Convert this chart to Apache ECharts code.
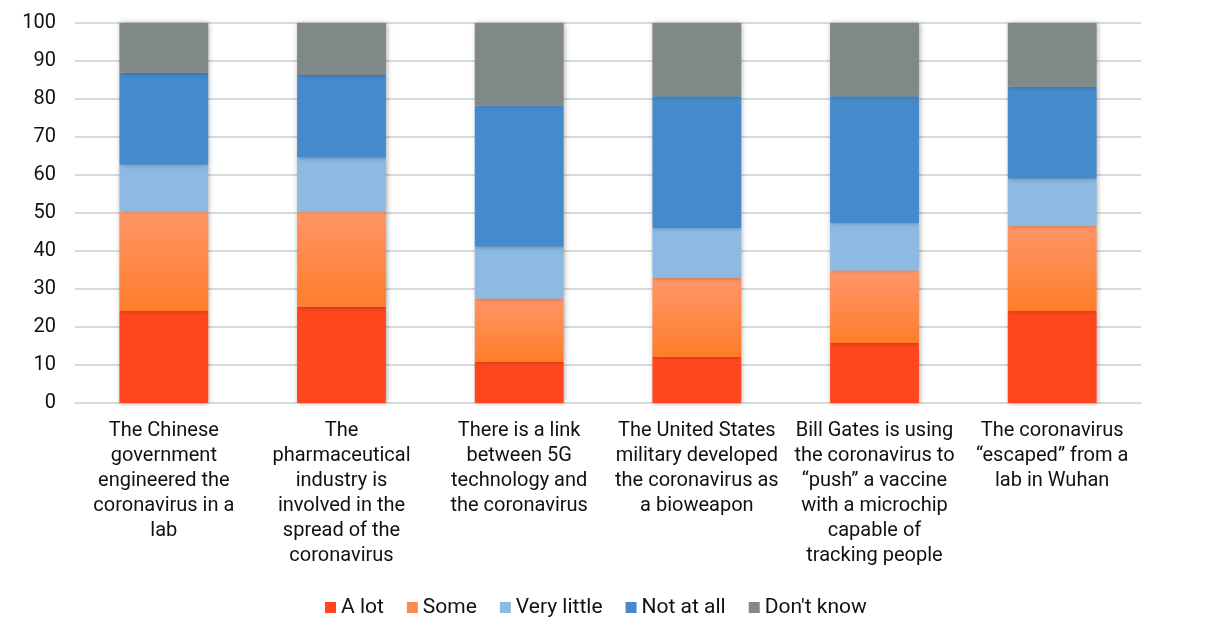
<!DOCTYPE html>
<html>
<head>
<meta charset="utf-8">
<style>
html,body{margin:0;padding:0;background:#fff;}
#chart{width:1207px;height:620px;}
</style>
<script src="https://cdn.jsdelivr.net/npm/echarts@6/dist/echarts.min.js"></script>
</head>
<body>
<div id="chart"></div>
<script>
const categories = [
  "The Chinese\ngovernment\nengineered the\ncoronavirus in a\nlab",
  "The\npharmaceutical\nindustry is\ninvolved in the\nspread of the\ncoronavirus",
  "There is a link\nbetween 5G\ntechnology and\nthe coronavirus",
  "The United States\nmilitary developed\nthe coronavirus as\na bioweapon",
  "Bill Gates is using\nthe coronavirus to\n“push” a vaccine\nwith a microchip\ncapable of\ntracking people",
  "The coronavirus\n“escaped” from a\nlab in Wuhan"
];
const seriesNames = ["A lot", "Some", "Very little", "Not at all", "Don't know"];
const aLot       = [24.2, 25.3, 10.8, 12.1, 15.8, 24.2];
const some       = [26.2, 25.1, 16.7, 20.8, 19.1, 22.4];
const veryLittle = [12.3, 14.2, 13.6, 13.1, 12.4, 12.4];
const notAtAll   = [24.2, 21.7, 37.2, 34.7, 33.4, 24.2];
const dontKnow   = [13.1, 13.7, 21.7, 19.3, 19.3, 16.8];
const yTicks = { min: 0, max: 100, interval: 10 };

const values = [aLot, some, veryLittle, notAtAll, dontKnow];
const colors = [
  "#FF461D",
  new echarts.graphic.LinearGradient(0, 0, 0, 1, [
    { offset: 0, color: "#FF9668" },
    { offset: 1, color: "#FF7D2A" }
  ]),
  "#8DBAE2",
  "#458ACB",
  "#808888"
];
const legendColors = ["#FF461D", "#FF8A4A", "#8DBAE2", "#458ACB", "#808888"];

const chart = echarts.init(document.getElementById("chart"), null, { renderer: "canvas" });
chart.setOption({
  animation: false,
  textStyle: { fontFamily: "Roboto" },
  grid: { left: 75, right: 66, top: 23, bottom: 217, containLabel: false },
  legend: {
    top: 592,
    left: 320,
    itemWidth: 11,
    itemHeight: 11,
    itemGap: 23,
    itemTextGap: 5,
    icon: "rect",
    textStyle: { fontSize: 21, color: "#111", fontFamily: "Roboto" },
    data: seriesNames.map((n, i) => ({ name: n, itemStyle: { color: legendColors[i] } }))
  },
  xAxis: {
    type: "category",
    data: categories,
    axisLine: { show: true, lineStyle: { color: "#d5dcdc", width: 2 } },
    axisTick: { show: false },
    axisLabel: {
      interval: 0,
      fontSize: 20,
      lineHeight: 25,
      color: "#111",
      margin: 15,
      align: "center",
      verticalAlign: "top"
    }
  },
  yAxis: {
    type: "value",
    min: yTicks.min,
    max: yTicks.max,
    interval: yTicks.interval,
    axisLine: { show: false },
    axisTick: { show: false },
    splitLine: { lineStyle: { color: "#d5dcdc", width: 2 } },
    axisLabel: { fontSize: 20, color: "#111", margin: 19 }
  },
  series: values.map((v, i) => ({
    name: seriesNames[i],
    type: "bar",
    stack: "total",
    data: v,
    barWidth: "50%",
    itemStyle: {
      color: colors[i],
      shadowBlur: 5,
      shadowColor: "rgba(0,0,0,0.35)",
      shadowOffsetX: 1
    }
  }))
});
</script>
</body>
</html>
